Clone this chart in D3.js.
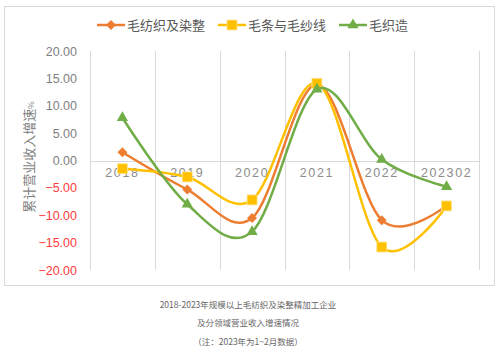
<!DOCTYPE html>
<html><head><meta charset="utf-8">
<script src="https://cdn.jsdelivr.net/npm/d3@7/dist/d3.min.js"></script>
<style>body{margin:0;background:#fff;}svg{display:block;font-family:"Noto Sans CJK SC","Noto Sans",sans-serif;}</style>
</head><body>
<script>
const categories = ["2018","2019","2020","2021","2022","202302"];
const seriesNames = ["毛纺织及染整","毛条与毛纱线","毛织造"];
const woolTextile = [1.5,-5.3,-10.5,13.9,-10.9,-8.2];
const yarn = [-1.5,-3.0,-7.2,14.1,-15.8,-8.3];
const weaving = [7.8,-8.0,-13.0,13.0,0.2,-4.8];
const yTicks = [20,15,10,5,0,-5,-10,-15,-20];
const captionLines = ["2018-2023年规模以上毛纺织及染整精加工企业","及分领域营业收入增速情况","（注：2023年为1~2月数据）"];
const colors = ["#ED7D31","#FFC000","#70AD47"];
const markers = ["diamond","square","triangle"];

const W=500,H=355;
const svg=d3.select("body").append("svg").attr("width",W).attr("height",H);
svg.append("rect").attr("x",4.5).attr("y",6.5).attr("width",490).attr("height",279).attr("fill","#fff").attr("stroke","#D9D9D9").attr("stroke-width",1);

const x=d3.scaleBand().domain(categories).range([90,479]);
const y=d3.scaleLinear().domain([-20,20]).range([270,51]);

// vertical gridlines
const edges=categories.map(c=>x(c)).concat([x.range()[1]]);
svg.append("g").selectAll("line").data(edges).join("line")
  .attr("x1",d=>Math.round(d)+0.5).attr("x2",d=>Math.round(d)+0.5)
  .attr("y1",51).attr("y2",270).attr("stroke","#D9D9D9").attr("stroke-width",1);
// zero line
svg.append("line").attr("x1",90).attr("x2",479).attr("y1",Math.round(y(0))+0.5).attr("y2",Math.round(y(0))+0.5).attr("stroke","#D9D9D9");

// y axis labels
const yAxis=d3.axisLeft(y).tickValues(yTicks).tickFormat(d3.format(".2f")).tickSize(0).tickPadding(0);
const gy=svg.append("g").attr("transform","translate(77,0)").call(yAxis);
gy.select(".domain").remove();
gy.selectAll("text").attr("font-size",12.5).attr("font-family","Liberation Sans, Arial, sans-serif")
  .attr("fill",d=>d<0?"#FF3B3B":"#7F7F7F");

// x axis labels
const xAxis=d3.axisBottom(x).tickSize(0).tickPadding(0);
const gx=svg.append("g").attr("transform",`translate(0,${y(0)+8})`).call(xAxis);
gx.select(".domain").remove();
gx.selectAll("text").attr("font-size",12.5).attr("font-family","Liberation Sans, Arial, sans-serif")
  .attr("fill","#8C8C8C").attr("letter-spacing","1.6px").attr("dy","0.71em");

// y title
svg.append("text").attr("transform","translate(34,157) rotate(-90)").attr("text-anchor","middle")
  .attr("font-size",13).attr("fill","#7F7F7F")
  .text("累计营业收入增速").append("tspan").attr("font-size",8).text("%");

const data=[woolTextile,yarn,weaving];
const line=d3.line().x((d,i)=>x(categories[i])+x.bandwidth()/2).y(d=>y(d)).curve(d3.curveCatmullRom.alpha(0));

function marker(g,type,cx,cy,color){
  if(type==="diamond"){
    g.append("rect").attr("x",-3.5).attr("y",-3.5).attr("width",7).attr("height",7)
      .attr("transform",`translate(${cx},${cy}) rotate(45)`).attr("fill",color);
  } else if(type==="square"){
    g.append("rect").attr("x",cx-5).attr("y",cy-5).attr("width",10).attr("height",10).attr("fill",color).attr("stroke","#FFE699").attr("stroke-width",0.8);
  } else {
    g.append("path").attr("d",d3.symbol(d3.symbolTriangle,55)()).attr("transform",`translate(${cx},${cy})`).attr("fill",color);
  }
}

data.forEach((vals,k)=>{
  const g=svg.append("g");
  g.append("path").datum(vals).attr("d",line).attr("fill","none").attr("stroke",colors[k]).attr("stroke-width",2.5);
  vals.forEach((v,i)=>marker(g,markers[k],x(categories[i])+x.bandwidth()/2,y(v),colors[k]));
});

// legend
const legX=[97,218,339];
seriesNames.forEach((n,k)=>{
  const g=svg.append("g");
  g.append("line").attr("x1",legX[k]).attr("x2",legX[k]+28).attr("y1",25).attr("y2",25).attr("stroke",colors[k]).attr("stroke-width",2.5);
  marker(g,markers[k],legX[k]+14,25,colors[k]);
  g.append("text").attr("x",legX[k]+30).attr("y",25).attr("dy","0.35em").attr("font-size",13).attr("fill","#595959").text(n);
});

// caption
captionLines.forEach((t,i)=>{
  svg.append("text").attr("x",248).attr("y",[305,323,342][i]).attr("dy","0.35em").attr("text-anchor","middle")
    .attr("font-size",8.5).attr("fill","#666666").text(t);
});
</script>
</body></html>
